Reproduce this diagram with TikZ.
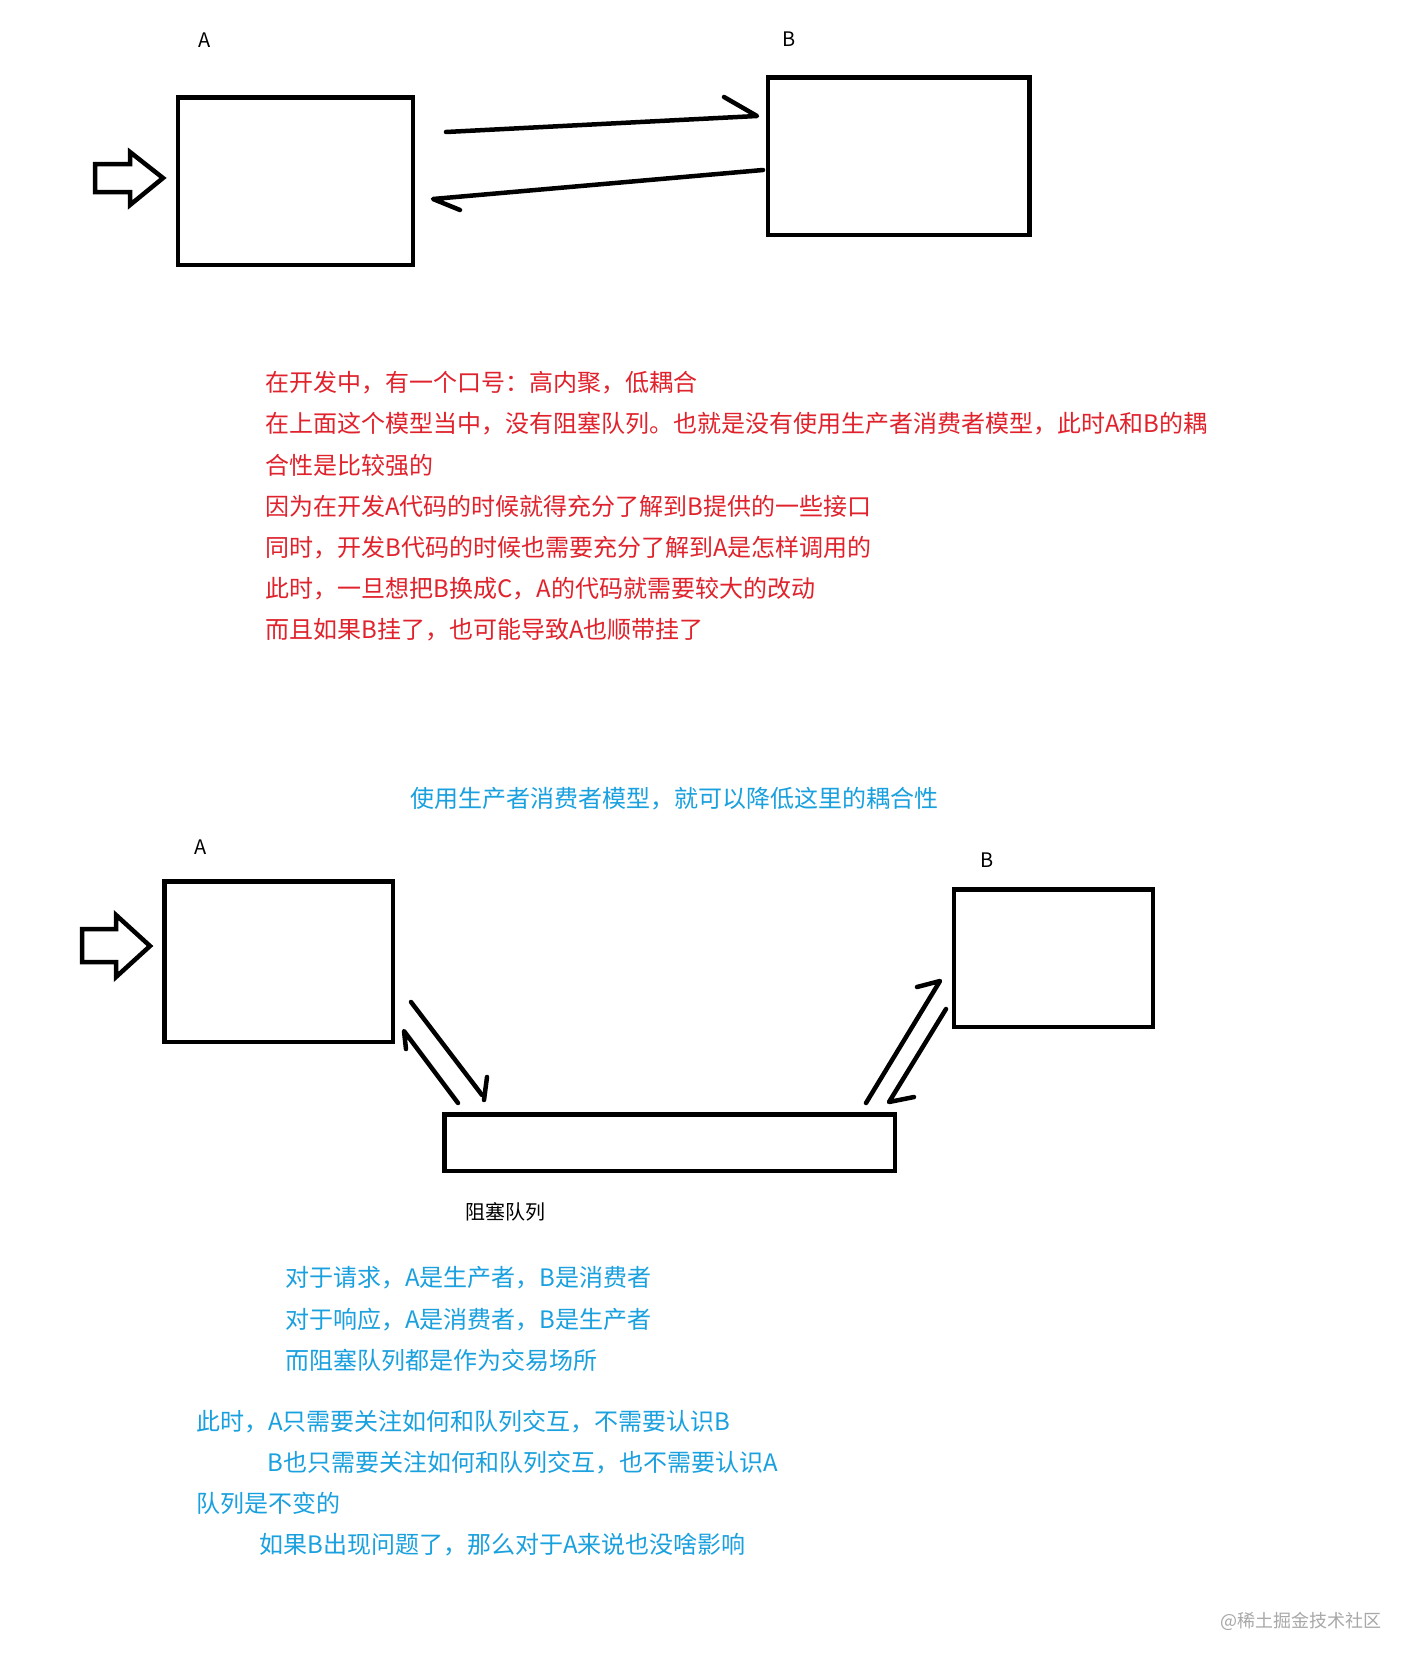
\documentclass[tikz,border=0pt]{standalone}
\usepackage{fontspec}
\setmainfont{Noto Sans CJK SC}
\definecolor{redtxt}{HTML}{E0222C}
\definecolor{bluetxt}{HTML}{19A0DE}
\definecolor{marktxt}{HTML}{A8A8A8}
\tikzset{
  x=0.5pt,y=-0.5pt,
  boxnode/.style={draw=black,line width=2.25pt,fill=white,inner sep=0pt,outer sep=0pt},
  ink/.style={draw=black,line width=2.25pt,line cap=round,line join=round},
  hollow/.style={draw=black,line width=2.25pt,line join=miter,fill=white},
  para/.style={anchor=west,inner sep=0pt,font=\fontsize{12pt}{14pt}\selectfont},
  redline/.style={para,text=redtxt},
  blueline/.style={para,text=bluetxt},
  lab/.style={inner sep=0pt,font=\fontsize{10pt}{12pt}\selectfont,text=black},
}
\begin{document}
\begin{tikzpicture}
\useasboundingbox (0,0) rectangle (1420,1670);
\fill[white] (0,0) rectangle (1420,1670);
% top model
\node[boxnode,minimum width=117.5pt,minimum height=83.75pt] (a1) at (295.25,181) {};
\node[boxnode,minimum width=130.75pt,minimum height=78.75pt] (b1) at (898.5,156) {};
\node[lab] (la1) at (205,40) {A};
\node[lab] (lb1) at (789,39) {B};
\coordinate (p1s) at (446,132); \coordinate (p1t) at (757,116); \coordinate (p1b) at (724,97);
\coordinate (p2s) at (763,170); \coordinate (p2t) at (433,199); \coordinate (p2b) at (460,210);
\draw[ink] (p1s) -- (p1t) -- (p1b);
\draw[ink] (p2s) -- (p2t) -- (p2b);
\draw[hollow] (95,164) -- (130,164) -- (130,152) -- (163,178) -- (130,205) -- (130,192) -- (95,192) -- cycle;
% red text
\node[redline] (r1) at (265,383) {在开发中，有一个口号：高内聚，低耦合};
\node[redline] (r2) at (265,424) {在上面这个模型当中，没有阻塞队列。也就是没有使用生产者消费者模型，此时A和B的耦};
\node[redline] (r3) at (265,465) {合性是比较强的};
\node[redline] (r4) at (265,506) {因为在开发A代码的时候就得充分了解到B提供的一些接口};
\node[redline] (r5) at (265,548) {同时，开发B代码的时候也需要充分了解到A是怎样调用的};
\node[redline] (r6) at (265,588.5) {此时，一旦想把B换成C，A的代码就需要较大的改动};
\node[redline] (r7) at (265,630) {而且如果B挂了，也可能导致A也顺带挂了};
\node[blueline] (h1) at (410,799) {使用生产者消费者模型，就可以降低这里的耦合性};
% bottom model
\node[boxnode,minimum width=114.25pt,minimum height=80.25pt] (a2) at (278.5,961.5) {};
\node[boxnode,minimum width=99.5pt,minimum height=68.75pt] (b2) at (1053.25,958) {};
\node[boxnode,minimum width=225.25pt,minimum height=28.25pt] (q) at (669.5,1142.5) {};
\node[lab] (la2) at (201,847) {A};
\node[lab] (lb2) at (987,860) {B};
\node[lab,anchor=west] (lq) at (465,1212) {阻塞队列};
\coordinate (p3s) at (411,1002); \coordinate (p3t) at (482,1095); \coordinate (p3b) at (487,1077); \coordinate (p3e) at (484,1100);
\coordinate (p4s) at (458,1103); \coordinate (p4t) at (404,1031); \coordinate (p4b) at (406,1049);
\coordinate (p5s) at (866,1103); \coordinate (p5t) at (940,981); \coordinate (p5b) at (917,987);
\coordinate (p6s) at (946,1009); \coordinate (p6t) at (889,1102); \coordinate (p6b) at (914,1097);
\draw[ink] (p3s) -- (p3t);
\draw[ink] (p3b) -- (p3e);
\draw[ink] (p4s) -- (p4t) -- (p4b);
\draw[ink] (p5s) -- (p5t) -- (p5b);
\draw[ink] (p6s) -- (p6t) -- (p6b);
\draw[hollow] (82,929) -- (116,929) -- (116,915) -- (150,946) -- (116,977) -- (116,962) -- (82,962) -- cycle;
% blue text
\node[blueline] (c1) at (285,1278) {对于请求，A是生产者，B是消费者};
\node[blueline] (c2) at (285,1320) {对于响应，A是消费者，B是生产者};
\node[blueline] (c3) at (285,1360.5) {而阻塞队列都是作为交易场所};
\node[blueline] (d1) at (196,1421.5) {此时，A只需要关注如何和队列交互，不需要认识B};
\node[blueline] (d2) at (267,1462.5) {B也只需要关注如何和队列交互，也不需要认识A};
\node[blueline] (d3) at (196,1503) {队列是不变的};
\node[blueline] (d4) at (259,1545) {如果B出现问题了，那么对于A来说也没啥影响};
\node[anchor=west,inner sep=0pt,text=marktxt,font=\fontsize{9pt}{11pt}\selectfont] (wm) at (1220,1621) {@稀土掘金技术社区};
\end{tikzpicture}
\end{document}
